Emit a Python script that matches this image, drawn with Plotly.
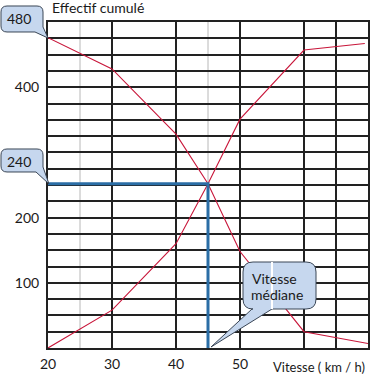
import plotly.graph_objects as go

# ---- data ----
inc_speed = [20, 30, 40, 45, 50, 60, 69.5]
inc_count = [0, 58, 160, 252, 351, 457, 467]
dec_speed = [20, 30, 40, 45, 50, 60, 70]
dec_count = [476, 428, 328, 252, 148, 25, 7]
median_speed = 45
median_count = 252
x_ticks = [20, 30, 40, 50]
y_ticks = [100, 200, 400]
callout_top = "480"
callout_mid = "240"

W, H = 375, 374
L, R, T, B = 48, 368, 22, 348  # plot area in px


def P(px, py):
    return (px - L) / (R - L), (B - py) / (B - T)


def callout_path(x0, y0, x1, y1, r, tail_after, tail):
    def f(a, b):
        u, v = P(a, b)
        return f"{u:.5f},{v:.5f}"
    s = f"M {f(x0 + r, y0)} L {f(x1 - r, y0)} Q {f(x1, y0)} {f(x1, y0 + r)} "
    (ax, ay), (tx, ty), (bx, by) = tail
    if tail_after == 'right':
        s += f"L {f(ax, ay)} L {f(tx, ty)} L {f(bx, by)} L {f(x0 + r, y1)} "
    else:
        s += f"L {f(x1, y1 - r)} Q {f(x1, y1)} {f(x1 - r, y1)} "
        s += f"L {f(ax, ay)} L {f(tx, ty)} L {f(bx, by)} L {f(x0 + r, y1)} "
    s += f"Q {f(x0, y1)} {f(x0, y1 - r)} L {f(x0, y0 + r)} Q {f(x0, y0)} {f(x0 + r, y0)} Z"
    return s


RED = "#C8163A"
BLUE = "#2B6EA6"
GRID = "#222222"
FILL = "#C6D7EE"
EDGE = "#3A4656"
FONT = "Lato"

fig = go.Figure()

fig.add_trace(go.Scatter(x=inc_speed, y=inc_count, mode="lines",
                         line=dict(color=RED, width=1.1), hoverinfo="skip"))
fig.add_trace(go.Scatter(x=dec_speed, y=dec_count, mode="lines",
                         line=dict(color=RED, width=1.1), hoverinfo="skip"))
fig.add_trace(go.Scatter(x=[x_ticks[0], median_speed, median_speed],
                         y=[median_count, median_count, 0], mode="lines",
                         line=dict(color=BLUE, width=3), hoverinfo="skip"))

shapes = []
for xv in [25, 35, 45, 55]:
    shapes.append(dict(type="line", xref="x", yref="paper", x0=xv, x1=xv, y0=0, y1=1,
                       line=dict(color="white", width=4), layer="between"))
for xv in [25, 45]:
    shapes.append(dict(type="line", xref="x", yref="paper", x0=xv, x1=xv, y0=0, y1=1,
                       line=dict(color="#b8b8b8", width=1), layer="between"))

shapes.append(dict(type="path", xref="paper", yref="paper",
                   path=callout_path(1, 6, 43, 32, 6, 'right', [(43, 27), (48, 38), (35, 32)]),
                   fillcolor=FILL, line=dict(color=EDGE, width=1), layer="above"))
shapes.append(dict(type="path", xref="paper", yref="paper",
                   path=callout_path(1, 149, 43, 172, 6, 'right', [(43, 167), (49, 184), (36, 172)]),
                   fillcolor=FILL, line=dict(color=EDGE, width=1), layer="above"))
shapes.append(dict(type="path", xref="paper", yref="paper",
                   path=callout_path(243, 262, 316, 309, 10, 'bottom', [(272, 309), (211, 347), (252, 309)]),
                   fillcolor=FILL, line=dict(color=EDGE, width=1), layer="above"))
shapes.append(dict(type="line", xref="x", yref="paper", x0=55, x1=55, y0=P(0, 309)[1], y1=P(0, 262)[1],
                   line=dict(color="white", width=2), layer="above"))

annotations = []
def txt(s, px, py, size=14, xanchor="center"):
    u, v = P(px, py)
    annotations.append(dict(text=s, x=u, y=v, xref="paper", yref="paper", showarrow=False,
                            xanchor=xanchor, yanchor="middle",
                            font=dict(family=FONT, size=size, color="#1a1a1a")))

txt(callout_top, 19, 18)
txt(callout_mid, 19, 161)
txt("Vitesse", 274, 278)
txt("médiane", 277, 294)
txt("Effectif cumulé", 50, 7, size=14, xanchor="left")
txt("Vitesse ( km / h)", 319, 367, size=13)

fig.update_layout(
    width=W, height=H,
    margin=dict(l=L, r=W - R, t=T, b=H - B, pad=0, autoexpand=False),
    paper_bgcolor="white", plot_bgcolor="white",
    showlegend=False,
    shapes=shapes, annotations=annotations,
    font=dict(family=FONT, size=14, color="#1a1a1a"),
    xaxis=dict(range=[20, 70], tickmode="array", tickvals=x_ticks,
               showgrid=True, gridcolor=GRID, gridwidth=2,
               minor=dict(tickmode="array", tickvals=[60, 65], showgrid=True,
                          gridcolor=GRID, gridwidth=2, ticks=""),
               showline=True, linecolor=GRID, linewidth=2, mirror=True,
               ticks="", ticklabelstandoff=2, zeroline=False, fixedrange=True,
               automargin=False),
    yaxis=dict(range=[0, 500], tickmode="array", tickvals=y_ticks,
               showgrid=True, gridcolor=GRID, gridwidth=2,
               minor=dict(tick0=0, dtick=25, showgrid=True, gridcolor=GRID,
                          gridwidth=2, ticks=""),
               showline=True, linecolor=GRID, linewidth=2, mirror=True,
               ticks="", ticklabelstandoff=4, zeroline=False, fixedrange=True,
               automargin=False),
)

fig.write_html("out.html", config=dict(displayModeBar=False),
               post_script="document.body.style.margin='0';document.body.style.overflow='hidden';")
